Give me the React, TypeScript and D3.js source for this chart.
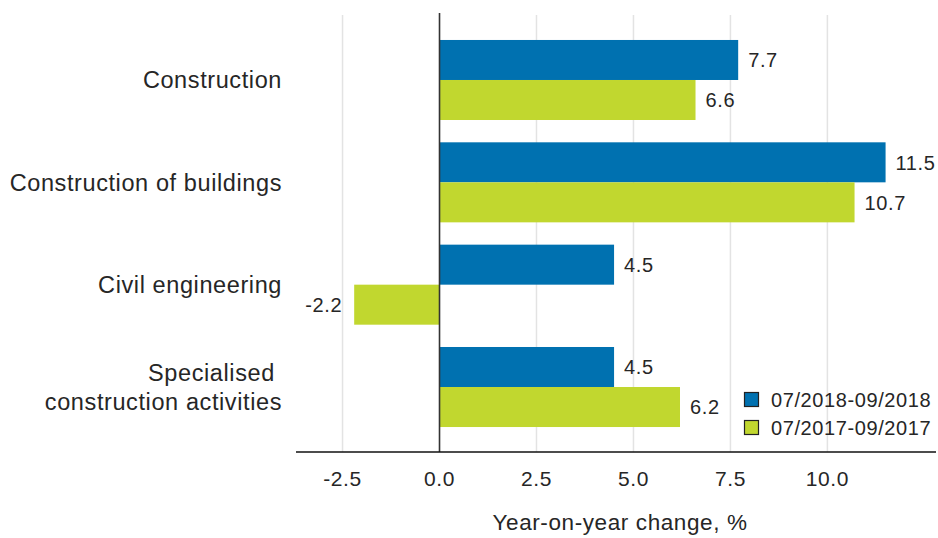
import * as d3 from "d3";

const categories = [
  ["Construction"],
  ["Construction of buildings"],
  ["Civil engineering"],
  ["Specialised ", "construction activities"],
];
const seriesNames = ["07/2018-09/2018", "07/2017-09/2017"];
const values2018 = [7.7, 11.5, 4.5, 4.5];
const values2017 = [6.6, 10.7, -2.2, 6.2];
const xTicks = [-2.5, 0, 2.5, 5, 7.5, 10];
const colors = ["#0071b0", "#c1d72f"];

const W = 938;
const H = 538;
const FONT = "'Liberation Sans', Arial, sans-serif";
const TEXT = "#262626";

// plain hyphen for negatives, like the original
const fmt = (v: number) => d3.format(".1f")(v).replace("\u2212", "-");

function App() {
  const series = [values2018, values2017];

  const x = d3.scaleLinear().domain([-3.7, 12.8]).range([296, 936]);
  const y = d3
    .scaleBand()
    .domain(d3.range(categories.length).map(String))
    .range([15, 452])
    .paddingInner(0.218)
    .paddingOuter(0.244);
  const inner = d3
    .scaleBand()
    .domain(seriesNames)
    .range([0, y.bandwidth()]);

  const top = 15;
  const bottom = 452;

  return (
    <svg
      width={W}
      height={H}
      style={{ position: "absolute", left: 0, top: 0, background: "#fff" }}
      fontFamily={FONT}
    >
      {/* gridlines */}
      {xTicks
        .filter((t) => t !== 0)
        .map((t) => (
          <line
            key={t}
            x1={x(t)}
            x2={x(t)}
            y1={top}
            y2={bottom}
            stroke="#e3e3e3"
            strokeWidth={1.5}
          />
        ))}

      {/* bars */}
      {categories.map((c, i) =>
        series.map((vals, s) => {
          const v = vals[i];
          const y0 = (y(String(i)) as number) + (inner(seriesNames[s]) as number);
          return (
            <rect
              key={i + "-" + s}
              x={Math.min(x(0), x(v))}
              y={y0}
              width={Math.abs(x(v) - x(0))}
              height={inner.bandwidth()}
              fill={colors[s]}
            />
          );
        })
      )}

      {/* bar labels */}
      {categories.map((c, i) =>
        series.map((vals, s) => {
          const v = vals[i];
          const yc =
            (y(String(i)) as number) +
            (inner(seriesNames[s]) as number) +
            inner.bandwidth() / 2;
          return (
            <text
              key={"l" + i + "-" + s}
              x={v >= 0 ? x(v) + 10 : x(v) - 12}
              y={yc}
              dy="0.36em"
              textAnchor={v >= 0 ? "start" : "end"}
              fontSize={20}
              letterSpacing={0.6}
              fill={TEXT}
            >
              {fmt(v)}
            </text>
          );
        })
      )}

      {/* zero line */}
      <line x1={x(0)} x2={x(0)} y1={13} y2={bottom} stroke="#333" strokeWidth={1.6} />

      {/* x axis */}
      <line x1={296} x2={936} y1={bottom} y2={bottom} stroke="#111" strokeWidth={1.6} />
      {xTicks.map((t) => (
        <text
          key={"t" + t}
          x={x(t)}
          y={478}
          dy="0.36em"
          textAnchor="middle"
          fontSize={21}
          letterSpacing={0.6}
          fill={TEXT}
        >
          {fmt(t)}
        </text>
      ))}
      <text
        x={620}
        y={522}
        dy="0.36em"
        textAnchor="middle"
        fontSize={22.5}
        letterSpacing={0.6}
        fill={TEXT}
      >
        Year-on-year change, %
      </text>

      {/* category labels */}
      {categories.map((lines, i) => {
        const yc = (y(String(i)) as number) + y.bandwidth() / 2;
        const lh = 29;
        return (
          <text
            key={"c" + i}
            textAnchor="end"
            fontSize={23.5}
            letterSpacing={0.6}
            fill={TEXT}
            style={{ whiteSpace: "pre" }}
          >
            {lines.map((ln, k) => (
              <tspan
                key={k}
                x={282}
                y={yc + (k - (lines.length - 1) / 2) * lh}
                dy="0.36em"
              >
                {ln}
              </tspan>
            ))}
          </text>
        );
      })}

      {/* legend */}
      {seriesNames.map((n, s) => (
        <g key={n} transform={`translate(744, ${392 + s * 28})`}>
          <rect x={0.5} y={0.5} width={14} height={14} fill={colors[s]} stroke="#222" strokeWidth={1.2} />
          <text x={27} y={7.5} dy="0.36em" fontSize={20} letterSpacing={0.6} fill={TEXT}>
            {n}
          </text>
        </g>
      ))}
    </svg>
  );
}

export default App;
